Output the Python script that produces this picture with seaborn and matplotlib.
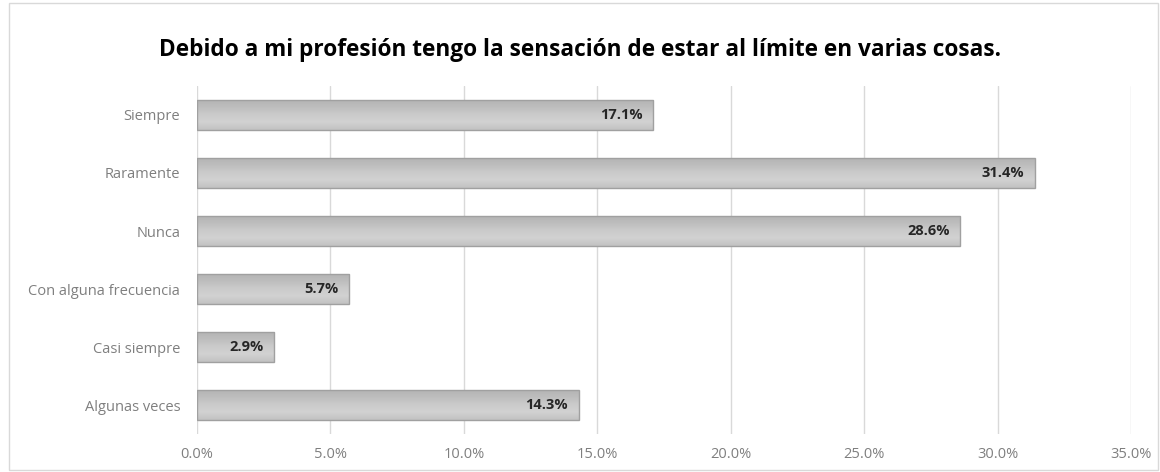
import matplotlib
matplotlib.use("Agg")
import matplotlib.pyplot as plt
import seaborn as sns
import pandas as pd
import numpy as np
from matplotlib.ticker import FuncFormatter, MultipleLocator
from matplotlib.patches import Rectangle
from matplotlib.colors import LinearSegmentedColormap

categories = ["Siempre", "Raramente", "Nunca", "Con alguna frecuencia", "Casi siempre", "Algunas veces"]
values = [17.1, 31.4, 28.6, 5.7, 2.9, 14.3]
title = "Debido a mi profesión tengo la sensación de estar al límite en varias cosas."

sns.set_theme(style="white")
plt.rcParams["font.family"] = ["Open Sans", "DejaVu Sans"]

df = pd.DataFrame({"categoria": categories, "porcentaje": values})

fig = plt.figure(figsize=(11.6, 4.72), dpi=100)
ax = fig.add_axes([0.1698, 0.0805, 0.8052, 0.7373])

sns.barplot(data=df, x="porcentaje", y="categoria", order=categories,
            color="#c8c8c8", edgecolor="#a0a0a0", linewidth=1.0,
            width=0.52, saturation=1, ax=ax)

ax.set_xlim(0, 35)
ax.set_ylim(len(categories) - 0.5, -0.5)

# soft vertical shading inside each bar
shade = LinearSegmentedColormap.from_list(
    "shade", ["#c2c2c2", "#d2d2d2", "#cbcbcb", "#bdbdbd", "#b4b4b4"])
grad = np.linspace(0, 1, 64).reshape(-1, 1)
for bar in ax.patches:
    x0, y0 = bar.get_x(), bar.get_y()
    w, h = bar.get_width(), bar.get_height()
    im = ax.imshow(grad, cmap=shade, aspect="auto", interpolation="bicubic",
                   extent=(x0, x0 + w, y0, y0 + h), origin="upper", zorder=bar.get_zorder())
    im.set_clip_path(bar)
    bar.set_facecolor("none")
    bar.set_zorder(bar.get_zorder() + 0.1)
ax.set_xlim(0, 35)
ax.set_ylim(len(categories) - 0.5, -0.5)
ax.set_aspect("auto")

ax.xaxis.set_major_locator(MultipleLocator(5))
ax.xaxis.set_major_formatter(FuncFormatter(lambda v, _: f"{v:.1f}%"))
ax.grid(axis="x", color="#d9d9d9", linewidth=1.0)
ax.set_axisbelow(True)
for s in ax.spines.values():
    s.set_visible(False)
ax.set_xlabel("")
ax.set_ylabel("")
ax.tick_params(axis="both", length=0, labelsize=10.5, labelcolor="#7f7f7f")
ax.tick_params(axis="x", pad=9)
ax.tick_params(axis="y", pad=12)

for i, v in enumerate(values):
    ax.text(v - 0.4, i, f"{v:.1f}%", ha="right", va="center",
            fontsize=10.5, fontweight="bold", color="#262626", zorder=5)

fig.text(0.5, 0.895, title, ha="center", va="center",
         fontsize=16.3, fontweight="bold", color="#000000")

fig.patches.append(Rectangle((0.008, 0.004), 0.99, 0.99, transform=fig.transFigure,
                             fill=False, edgecolor="#d9d9d9", linewidth=1.0))

fig.savefig("out.png", dpi=100, facecolor="white")
